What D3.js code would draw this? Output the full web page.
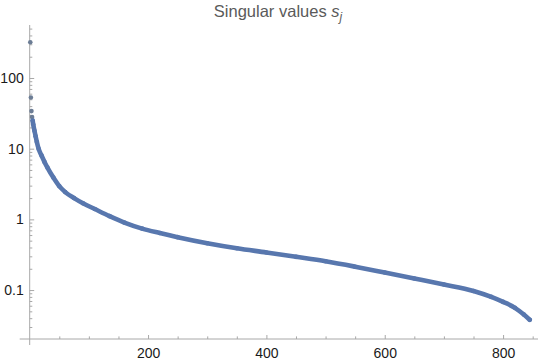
<!DOCTYPE html>
<html>
<head>
<meta charset="utf-8">
<script src="https://cdn.jsdelivr.net/npm/d3@7"></script>
<style>
body{margin:0;background:#fff;}
svg{display:block;font-family:"Liberation Sans",Arial,sans-serif;}
</style>
</head>
<body>
<div id="chart"></div>
<script>
(function(){

const width = 540;
const height = 363;

// index j and singular value s_j
const jIndex = [1,2,3,4,5,6,8,10,12,15,20,25,30,40,50,60,75,90,110,135,160,190,220,250,300,350,400,450,500,550,600,650,700,750,780,800,820,835,845];
const sValues = [320,53,34,28,25,22,18,15,12.5,10,8,6.5,5.4,3.9,2.95,2.43,2.0,1.69,1.4,1.11,0.9,0.74,0.64,0.56,0.46,0.39,0.34,0.295,0.255,0.214,0.177,0.146,0.12,0.097,0.080,0.068,0.056,0.045,0.038];

const xTicks = [200,400,600,800];
const xMinor = d3.range(50,851,50);
const yTicks = [0.1,1,10,100];
const yTickLabels = ["0.1","1","10","100"];
const yMinor = [];
[0.01,0.1,1,10,100].forEach(d=>{ for(let k=2;k<=9;k++) yMinor.push(d*k); });

const data = jIndex.map((j,i)=>({j:j,s:sValues[i]}));

const x = d3.scaleLinear()
.domain([0,859])
.range([29.7,538]);

const y = d3.scaleLog()
.domain([0.0203,562])
.range([339,25]);

const svg = d3.select("#chart")
.append("svg")
.attr("width",width)
.attr("height",height);

const axisColor = "#a8a8a8";

// title
const title = svg.append("text")
.attr("x",278)
.attr("y",17)
.attr("text-anchor","middle")
.attr("fill","#5a5a5a")
.style("font-size","16.5px");
title.append("tspan").text("Singular values ");
title.append("tspan").attr("font-style","italic").text("s");
title.append("tspan").attr("font-style","italic").attr("dy",4).style("font-size","12px").text("j");

// x axis
const gx = svg.append("g")
.attr("transform",`translate(0,${y.range()[0]})`);
gx.call(d3.axisBottom(x).tickValues(xMinor.filter(d=>xTicks.indexOf(d)<0)).tickSizeInner(-2.6).tickSizeOuter(0).tickFormat(""));
const gx2 = svg.append("g")
.attr("transform",`translate(0,${y.range()[0]})`);
gx2.call(d3.axisBottom(x).tickValues(xTicks).tickSizeInner(-4).tickSizeOuter(0).tickPadding(9).tickFormat(d3.format("d")));
[gx,gx2].forEach(g=>{
  g.select(".domain").remove();
  g.selectAll("line").attr("stroke",axisColor);
  g.selectAll("text").attr("fill","#1a1a1a").style("font-size","14px").attr("font-family","Liberation Sans, Arial, sans-serif");
});

// y axis
const gy = svg.append("g")
.attr("transform",`translate(${x(0)},0)`);
gy.call(d3.axisLeft(y).tickValues(yMinor.filter(d=>d>y.domain()[0]&&d<y.domain()[1])).tickSizeInner(-2.6).tickSizeOuter(0).tickFormat(""));
const gy2 = svg.append("g")
.attr("transform",`translate(${x(0)},0)`);
gy2.call(d3.axisLeft(y).tickValues(yTicks).tickSizeInner(-4.5).tickSizeOuter(0).tickPadding(6).tickFormat((d,i)=>yTickLabels[i]));
[gy,gy2].forEach(g=>{
  g.select(".domain").remove();
  g.selectAll("line").attr("stroke",axisColor);
  g.selectAll("text").attr("fill","#1a1a1a").style("font-size","14px").attr("font-family","Liberation Sans, Arial, sans-serif");
});

// axis lines with small overhang at the origin
svg.append("line")
.attr("x1",x(0)-10).attr("x2",x.range()[1])
.attr("y1",y.range()[0]).attr("y2",y.range()[0])
.attr("stroke",axisColor);
svg.append("line")
.attr("x1",x(0)).attr("x2",x(0))
.attr("y1",y.range()[1]).attr("y2",y.range()[0]+6)
.attr("stroke",axisColor);

const pointColor = "#5877ae";

// dense run of points drawn as a thick stroke through the read values
const line = d3.line()
.x(d=>x(d.j))
.y(d=>y(d.s))
.curve(d3.curveMonotoneX);

svg.append("path")
.datum(data.filter(d=>d.j>=5))
.attr("d",line)
.attr("fill","none")
.attr("stroke",pointColor)
.attr("stroke-width",4.6)
.attr("stroke-linecap","round");

svg.selectAll("circle")
.data(data)
.enter()
.append("circle")
.attr("cx",d=>x(d.j))
.attr("cy",d=>y(d.s))
.attr("r",2.3)
.attr("fill",d=>d.j<5?"#6c7d95":pointColor);

})();
</script>
</body>
</html>
